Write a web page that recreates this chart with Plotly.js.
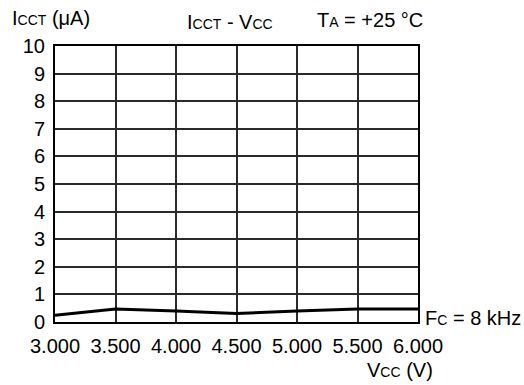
<!DOCTYPE html>
<html>
<head>
<meta charset="utf-8">
<script src="https://cdn.plot.ly/plotly-3.0.1.min.js"></script>
<style>html,body{margin:0;padding:0;background:#fff;}#chart{width:524px;height:385px;}</style>
</head>
<body>
<div id="chart"></div>
<script>
const vcc = [3.0, 3.5, 4.0, 4.5, 5.0, 5.5, 6.0];
const icct = [0.24, 0.47, 0.40, 0.31, 0.40, 0.47, 0.47];
const xTickVals = [3.0, 3.5, 4.0, 4.5, 5.0, 5.5, 6.0];
const xTickText = ["3.000", "3.500", "4.000", "4.500", "5.000", "5.500", "6.000"];
const yTickVals = [0, 1, 2, 3, 4, 5, 6, 7, 8, 9, 10];

const F = "Liberation Sans, Arial, sans-serif";
const big = 20, small = 14;
const sm = t => "<span style='font-size:" + small + "px'>" + t + "</span>";

const trace = {
  x: vcc, y: icct, type: "scatter", mode: "lines",
  line: {color: "#000", width: 3}, hoverinfo: "skip", showlegend: false
};

const layout = {
  width: 524, height: 385,
  margin: {l: 55, r: 106, t: 46, b: 63},
  paper_bgcolor: "#fff", plot_bgcolor: "#fff",
  font: {family: F, size: big, color: "#000"},
  xaxis: {
    range: [3.0, 6.0], tickvals: xTickVals, ticktext: xTickText,
    showgrid: true, gridcolor: "#2a2a2a", gridwidth: 2,
    showline: true, linecolor: "#000", linewidth: 2, mirror: true,
    ticks: "", zeroline: false, ticklabelstandoff: 5,
    tickfont: {family: F, size: big, color: "#000"}
  },
  yaxis: {
    range: [0, 10], tickvals: yTickVals,
    showgrid: true, gridcolor: "#2a2a2a", gridwidth: 2,
    showline: true, linecolor: "#000", linewidth: 2, mirror: true,
    ticks: "", zeroline: false, ticklabelstandoff: 4,
    tickfont: {family: F, size: big, color: "#000"}
  },
  annotations: [
    {text: "I" + sm("CCT") + " (μA)", xref: "paper", yref: "paper", x: -0.124, y: 1.101, xanchor: "left", yanchor: "middle", showarrow: false, font: {family: F, size: big}},
    {text: "I" + sm("CCT") + " - V" + sm("CC"), xref: "paper", yref: "paper", x: 0.482, y: 1.087, xanchor: "center", yanchor: "middle", showarrow: false, font: {family: F, size: big}},
    {text: "T" + sm("A") + " = +25 °C", xref: "paper", yref: "paper", x: 0.716, y: 1.094, xanchor: "left", yanchor: "middle", showarrow: false, font: {family: F, size: big}},
    {text: "F" + sm("C") + " = 8 kHz", xref: "paper", yref: "paper", x: 1.014, y: 0.0145, xanchor: "left", yanchor: "middle", showarrow: false, font: {family: F, size: big}},
    {text: "V" + sm("CC") + " (V)", xref: "paper", yref: "paper", x: 0.95, y: -0.174, xanchor: "center", yanchor: "middle", showarrow: false, font: {family: F, size: big}}
  ]
};

Plotly.newPlot("chart", [trace], layout, {displayModeBar: false, staticPlot: true});
</script>
</body>
</html>
